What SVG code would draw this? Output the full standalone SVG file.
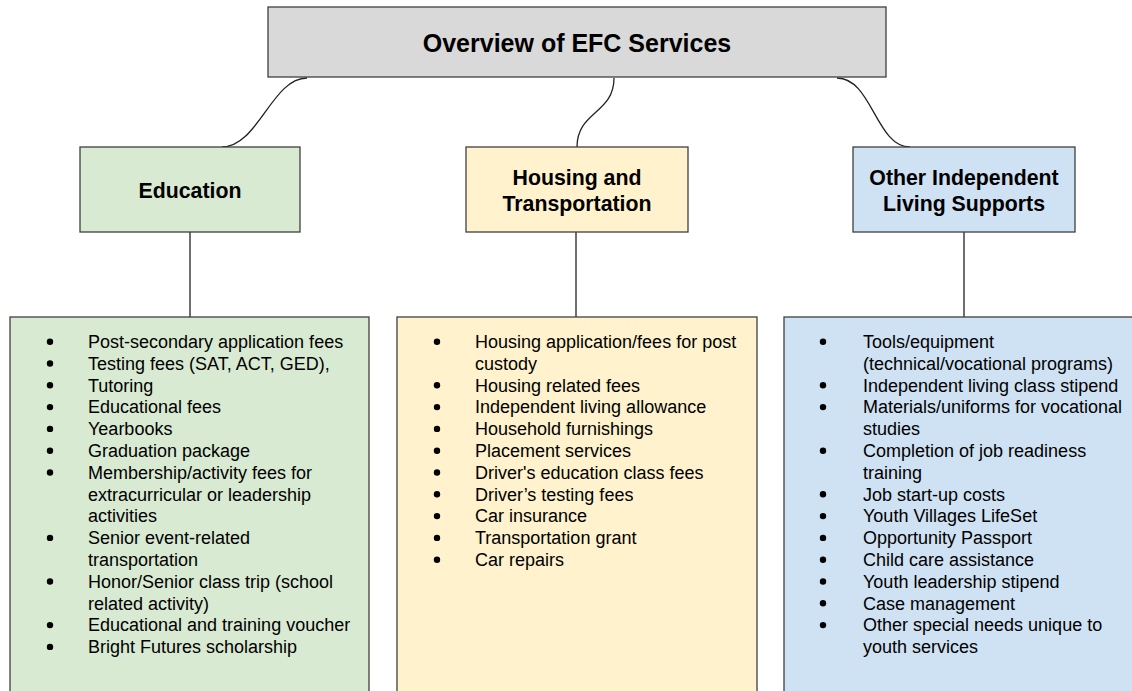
<svg xmlns="http://www.w3.org/2000/svg" width="1132" height="691" viewBox="0 0 1132 691">
<style>
.box{stroke:#3f3f3f;stroke-width:1.3}
.conn{fill:none;stroke:#222;stroke-width:1.3}
.hd{font-family:"Liberation Sans",Arial,sans-serif;font-weight:bold;font-size:21.3px;fill:#000;text-anchor:middle}
.ttl{font-family:"Liberation Sans",Arial,sans-serif;font-weight:bold;font-size:25px;fill:#000;text-anchor:middle}
.li{font-family:"Liberation Sans",Arial,sans-serif;font-size:18px;fill:#000}
.b{fill:#000}
</style>
<rect width="1132" height="691" fill="#fff"/>
<g id="connectors">
<path class="conn" d="M307,78 C272,78 258,147 222,147"/>
<path class="conn" d="M614,78 C614,114 577,111 577,147"/>
<path class="conn" d="M837,78 C872,78 876,147 910,147"/>
<line class="conn" x1="190" y1="232" x2="190" y2="317"/>
<line class="conn" x1="576" y1="232" x2="576" y2="317"/>
<line class="conn" x1="964" y1="232" x2="964" y2="317"/>
</g>
<g id="title">
<rect class="box" x="268" y="7" width="618" height="70" fill="#d9d9d9"/>
<text class="ttl" x="577" y="51.5">Overview of EFC Services</text>
</g>
<g id="education">
<rect class="box" x="80" y="147" width="220" height="85" fill="#d9ead3"/>
<text class="hd" x="190" y="198">Education</text>
</g>
<g id="housing">
<rect class="box" x="466" y="147" width="222" height="85" fill="#fff2cc"/>
<text class="hd" x="577" y="185">Housing and</text>
<text class="hd" x="577" y="211">Transportation</text>
</g>
<g id="other">
<rect class="box" x="853" y="147" width="222" height="85" fill="#cfe2f3"/>
<text class="hd" x="964" y="185">Other Independent</text>
<text class="hd" x="964" y="211">Living Supports</text>
</g>
<g id="education-list">
<rect class="box" x="10" y="317" width="359" height="390" fill="#d9ead3"/>
<g class="b">
<circle cx="50" cy="341.7" r="3.2"/><circle cx="50" cy="363.5" r="3.2"/><circle cx="50" cy="385.3" r="3.2"/><circle cx="50" cy="407.1" r="3.2"/><circle cx="50" cy="428.9" r="3.2"/><circle cx="50" cy="450.7" r="3.2"/><circle cx="50" cy="472.5" r="3.2"/><circle cx="50" cy="537.9" r="3.2"/><circle cx="50" cy="581.5" r="3.2"/><circle cx="50" cy="625.1" r="3.2"/><circle cx="50" cy="646.9" r="3.2"/>
</g>
<text class="li">
<tspan x="88" y="348">Post-secondary application fees</tspan>
<tspan x="88" y="369.8">Testing fees (SAT, ACT, GED),</tspan>
<tspan x="88" y="391.6">Tutoring</tspan>
<tspan x="88" y="413.4">Educational fees</tspan>
<tspan x="88" y="435.2">Yearbooks</tspan>
<tspan x="88" y="457">Graduation package</tspan>
<tspan x="88" y="478.8">Membership/activity fees for</tspan>
<tspan x="88" y="500.6">extracurricular or leadership</tspan>
<tspan x="88" y="522.4">activities</tspan>
<tspan x="88" y="544.2">Senior event-related</tspan>
<tspan x="88" y="566">transportation</tspan>
<tspan x="88" y="587.8">Honor/Senior class trip (school</tspan>
<tspan x="88" y="609.6">related activity)</tspan>
<tspan x="88" y="631.4">Educational and training voucher</tspan>
<tspan x="88" y="653.2">Bright Futures scholarship</tspan>
</text>
</g>
<g id="housing-list">
<rect class="box" x="397" y="317" width="360" height="390" fill="#fff2cc"/>
<g class="b">
<circle cx="437" cy="341.7" r="3.2"/><circle cx="437" cy="385.3" r="3.2"/><circle cx="437" cy="407.1" r="3.2"/><circle cx="437" cy="428.9" r="3.2"/><circle cx="437" cy="450.7" r="3.2"/><circle cx="437" cy="472.5" r="3.2"/><circle cx="437" cy="494.3" r="3.2"/><circle cx="437" cy="516.1" r="3.2"/><circle cx="437" cy="537.9" r="3.2"/><circle cx="437" cy="559.7" r="3.2"/>
</g>
<text class="li">
<tspan x="475" y="348">Housing application/fees for post</tspan>
<tspan x="475" y="369.8">custody</tspan>
<tspan x="475" y="391.6">Housing related fees</tspan>
<tspan x="475" y="413.4">Independent living allowance</tspan>
<tspan x="475" y="435.2">Household furnishings</tspan>
<tspan x="475" y="457">Placement services</tspan>
<tspan x="475" y="478.8">Driver's education class fees</tspan>
<tspan x="475" y="500.6">Driver’s testing fees</tspan>
<tspan x="475" y="522.4">Car insurance</tspan>
<tspan x="475" y="544.2">Transportation grant</tspan>
<tspan x="475" y="566">Car repairs</tspan>
</text>
</g>
<g id="other-list">
<rect class="box" x="784" y="317" width="370" height="390" fill="#cfe2f3"/>
<g class="b">
<circle cx="823" cy="341.7" r="3.2"/><circle cx="823" cy="385.3" r="3.2"/><circle cx="823" cy="407.1" r="3.2"/><circle cx="823" cy="450.7" r="3.2"/><circle cx="823" cy="494.3" r="3.2"/><circle cx="823" cy="516.1" r="3.2"/><circle cx="823" cy="537.9" r="3.2"/><circle cx="823" cy="559.7" r="3.2"/><circle cx="823" cy="581.5" r="3.2"/><circle cx="823" cy="603.3" r="3.2"/><circle cx="823" cy="625.1" r="3.2"/>
</g>
<text class="li">
<tspan x="863" y="348">Tools/equipment</tspan>
<tspan x="863" y="369.8">(technical/vocational programs)</tspan>
<tspan x="863" y="391.6">Independent living class stipend</tspan>
<tspan x="863" y="413.4">Materials/uniforms for vocational</tspan>
<tspan x="863" y="435.2">studies</tspan>
<tspan x="863" y="457">Completion of job readiness</tspan>
<tspan x="863" y="478.8">training</tspan>
<tspan x="863" y="500.6">Job start-up costs</tspan>
<tspan x="863" y="522.4">Youth Villages LifeSet</tspan>
<tspan x="863" y="544.2">Opportunity Passport</tspan>
<tspan x="863" y="566">Child care assistance</tspan>
<tspan x="863" y="587.8">Youth leadership stipend</tspan>
<tspan x="863" y="609.6">Case management</tspan>
<tspan x="863" y="631.4">Other special needs unique to</tspan>
<tspan x="863" y="653.2">youth services</tspan>
</text>
</g>
</svg>
